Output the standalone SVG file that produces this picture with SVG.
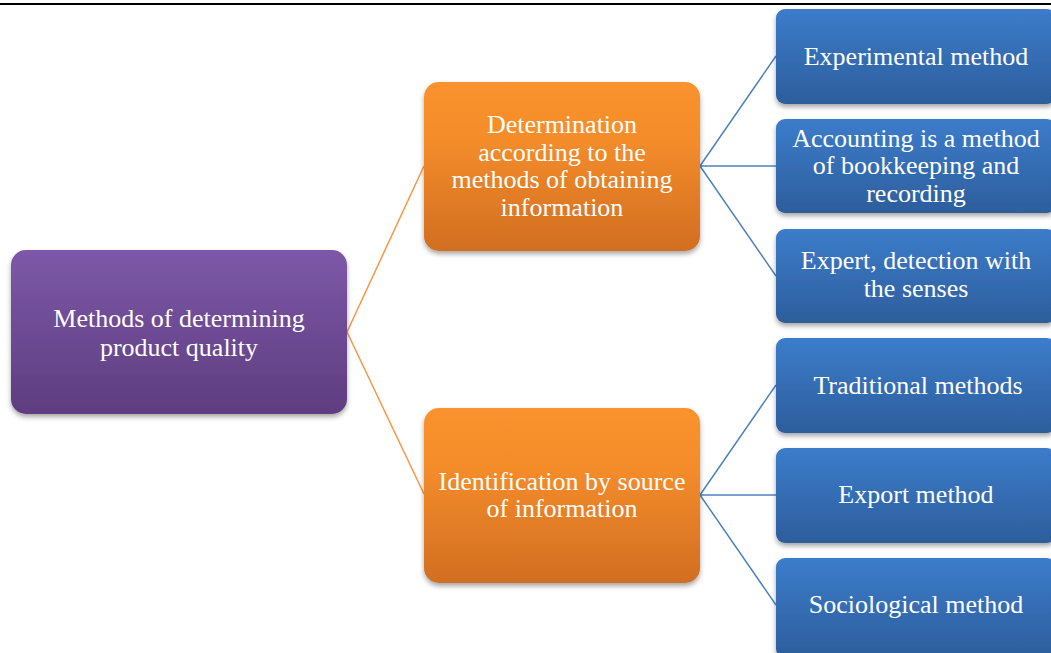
<svg xmlns="http://www.w3.org/2000/svg" width="1051" height="653" viewBox="0 0 1051 653">
<style>
.t{font-family:"Liberation Serif","Times New Roman",serif;font-size:26px;fill:#ffffff;text-anchor:middle}
.co{stroke:#F79646;stroke-width:1.5;fill:none}
.cb{stroke:#4F81BD;stroke-width:1.5;fill:none}
</style>
<defs>
<linearGradient id="gp" x1="0" y1="0" x2="0" y2="1"><stop offset="0" stop-color="#7D58A8"/><stop offset="1" stop-color="#5E3D7F"/></linearGradient>
<linearGradient id="go" x1="0" y1="0" x2="0" y2="1"><stop offset="0" stop-color="#FA922D"/><stop offset="0.35" stop-color="#F48C2B"/><stop offset="1" stop-color="#D16E21"/></linearGradient>
<linearGradient id="gb" x1="0" y1="0" x2="0" y2="1"><stop offset="0" stop-color="#3C7CCB"/><stop offset="1" stop-color="#2D5E9C"/></linearGradient>
<filter id="sh" x="-10%" y="-10%" width="120%" height="130%"><feDropShadow dx="0" dy="3" stdDeviation="2.5" flood-color="#000" flood-opacity="0.35"/></filter>
</defs>
<rect width="1051" height="653" fill="#ffffff"/>
<line x1="0" y1="4" x2="1051" y2="4" stroke="#000" stroke-width="2.2"/>
<g id="connectors">
<path class="co" d="M347,332 L424,166 M347,332 L424,494"/>
<path class="cb" d="M700,166 L776,56 M700,166 L776,166 M700,166 L776,276"/>
<path class="cb" d="M700,495 L776,385 M700,495 L776,495 M700,495 L776,605"/>
</g>
<g id="root">
<rect x="11" y="250" width="336" height="164" rx="15" fill="url(#gp)" filter="url(#sh)"/>
<text class="t" x="179" y="327">Methods of determining</text>
<text class="t" x="179" y="356">product quality</text>
</g>
<g id="n1">
<rect x="424" y="82" width="276" height="169" rx="15" fill="url(#go)" filter="url(#sh)"/>
<text class="t" x="562" y="133">Determination</text>
<text class="t" x="562" y="161">according to the</text>
<text class="t" x="562" y="188">methods of obtaining</text>
<text class="t" x="562" y="216">information</text>
</g>
<g id="n2">
<rect x="424" y="408" width="276" height="175" rx="15" fill="url(#go)" filter="url(#sh)"/>
<text class="t" x="562" y="490">Identification by source</text>
<text class="t" x="562" y="517">of information</text>
</g>
<g id="b1">
<rect x="776" y="9" width="280" height="95" rx="9" fill="url(#gb)" filter="url(#sh)"/>
<text class="t" x="916" y="65">Experimental method</text>
</g>
<g id="b2">
<rect x="776" y="119" width="280" height="94" rx="9" fill="url(#gb)" filter="url(#sh)"/>
<text class="t" x="916" y="147">Accounting is a method</text>
<text class="t" x="916" y="174">of bookkeeping and</text>
<text class="t" x="916" y="202">recording</text>
</g>
<g id="b3">
<rect x="776" y="229" width="280" height="94" rx="9" fill="url(#gb)" filter="url(#sh)"/>
<text class="t" x="916" y="269">Expert, detection with</text>
<text class="t" x="916" y="297">the senses</text>
</g>
<g id="b4">
<rect x="776" y="338" width="280" height="95" rx="9" fill="url(#gb)" filter="url(#sh)"/>
<text class="t" x="918" y="394">Traditional methods</text>
</g>
<g id="b5">
<rect x="776" y="448" width="280" height="95" rx="9" fill="url(#gb)" filter="url(#sh)"/>
<text class="t" x="916" y="503">Export method</text>
</g>
<g id="b6">
<rect x="776" y="558" width="280" height="100" rx="9" fill="url(#gb)" filter="url(#sh)"/>
<text class="t" x="916" y="613">Sociological method</text>
</g>
</svg>
